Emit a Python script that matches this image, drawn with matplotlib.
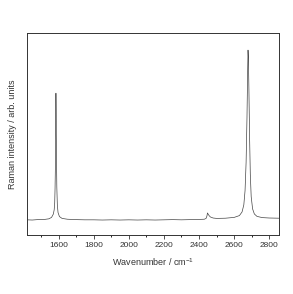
import numpy as np
import matplotlib
matplotlib.use("Agg")
import matplotlib.pyplot as plt
from matplotlib.ticker import MultipleLocator

# spectrum points (wavenumber / cm-1, intensity in axis fraction)
wavenumber = [1420, 1450, 1480, 1520, 1545, 1560, 1570, 1575, 1578, 1580, 1582, 1584,
              1585, 1586, 1588, 1590, 1593, 1597, 1605, 1620, 1650, 1700, 1750, 1800,
              1850, 1900, 1950, 2000, 2050, 2100, 2150, 2200, 2250, 2300, 2350, 2400,
              2430, 2440, 2445, 2448, 2452, 2458, 2465, 2480, 2500, 2550, 2600, 2630,
              2645, 2655, 2662, 2668, 2673, 2677, 2679, 2681, 2684, 2688, 2692, 2697,
              2705, 2715, 2730, 2760, 2800, 2855]
intensity = [0.076, 0.075, 0.077, 0.078, 0.081, 0.088, 0.104, 0.125, 0.160, 0.230, 0.340, 0.560,
             0.702, 0.620, 0.400, 0.240, 0.150, 0.112, 0.092, 0.083, 0.079, 0.077, 0.076, 0.076,
             0.075, 0.076, 0.075, 0.076, 0.075, 0.076, 0.075, 0.076, 0.077, 0.076, 0.077, 0.078,
             0.079, 0.083, 0.095, 0.110, 0.104, 0.096, 0.090, 0.085, 0.083, 0.084, 0.088, 0.097,
             0.115, 0.150, 0.220, 0.360, 0.580, 0.820, 0.915, 0.880, 0.720, 0.480, 0.300, 0.190,
             0.130, 0.105, 0.093, 0.087, 0.085, 0.084]

xticks = [1600, 1800, 2000, 2200, 2400, 2600, 2800]

plt.rcParams['font.family'] = ['Liberation Sans', 'DejaVu Sans']
plt.rcParams['mathtext.fontset'] = 'custom'
plt.rcParams['mathtext.rm'] = 'Liberation Sans'
plt.rcParams['mathtext.default'] = 'regular'

fig = plt.figure(figsize=(2.93, 2.94), dpi=100)
ax = fig.add_axes([0.092, 0.200, 0.860, 0.688])
ax.plot(wavenumber, intensity, color='#444444', linewidth=0.5)

ax.set_xlim(1420, 2855)
ax.set_ylim(0, 1)
ax.set_xticks(xticks)
ax.xaxis.set_minor_locator(MultipleLocator(100))
ax.set_yticks([])
ax.tick_params(axis='x', which='major', direction='out', length=3, width=0.6,
               labelsize=6, pad=2, colors='#333333')
ax.tick_params(axis='x', which='minor', direction='out', length=1.5, width=0.6)
for s in ax.spines.values():
    s.set_linewidth(0.7)
    s.set_color('#333333')

ax.set_xlabel('Wavenumber / cm$^{-1}$', fontsize=6.5, labelpad=5, color='#333333')
ax.set_ylabel('Raman intensity / arb. units', fontsize=6.5, labelpad=7, color='#333333')

fig.savefig('out.png', dpi=100)
